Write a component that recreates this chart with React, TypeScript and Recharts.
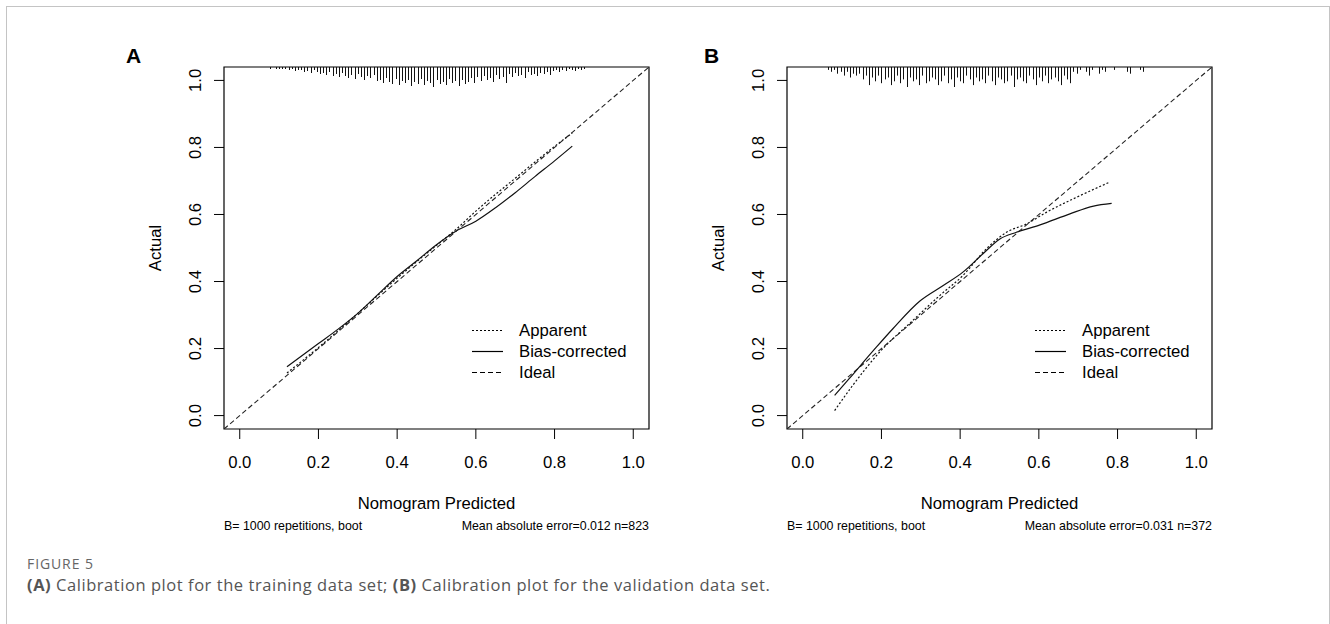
import React from 'react'
import { ComposedChart, Line, Scatter, XAxis, YAxis, Legend, ReferenceArea } from 'recharts'

// shared axis setup (R adds 4% on each side)
const axisTicks = [0, 0.2, 0.4, 0.6, 0.8, 1.0]
const axisDomain = [-0.04, 1.04]

// ideal line y = x, corner to corner
const idealX = [-0.04, 1.04]
const idealY = [-0.04, 1.04]

// panel A, training set
const apparentAX = [0.12, 0.2, 0.3, 0.4, 0.5, 0.55, 0.6, 0.7, 0.8, 0.845]
const apparentAY = [0.127, 0.203, 0.305, 0.41, 0.508, 0.556, 0.61, 0.708, 0.803, 0.843]
const correctedAX = [0.12, 0.2, 0.25, 0.3, 0.35, 0.4, 0.45, 0.5, 0.55, 0.6, 0.65, 0.7, 0.75, 0.8, 0.845]
const correctedAY = [0.146, 0.215, 0.258, 0.305, 0.36, 0.415, 0.462, 0.51, 0.551, 0.58, 0.62, 0.665, 0.713, 0.76, 0.804]

// panel A spike histogram of predictions (top rug)
const rugAX = [
  0.076, 0.084, 0.092, 0.1, 0.108, 0.116, 0.124, 0.132, 0.14, 0.148,
  0.156, 0.164, 0.172, 0.18, 0.188, 0.196, 0.204, 0.212, 0.22, 0.228,
  0.236, 0.244, 0.252, 0.26, 0.268, 0.276, 0.284, 0.292, 0.3, 0.308,
  0.316, 0.324, 0.332, 0.34, 0.348, 0.356, 0.364, 0.372, 0.38, 0.388,
  0.396, 0.404, 0.412, 0.42, 0.428, 0.436, 0.444, 0.452, 0.46, 0.468,
  0.476, 0.484, 0.492, 0.5, 0.508, 0.516, 0.524, 0.532, 0.54, 0.548,
  0.556, 0.564, 0.572, 0.58, 0.588, 0.596, 0.604, 0.612, 0.62, 0.628,
  0.636, 0.644, 0.652, 0.66, 0.668, 0.676, 0.684, 0.692, 0.7, 0.708,
  0.716, 0.724, 0.732, 0.74, 0.748, 0.756, 0.764, 0.772, 0.78, 0.788,
  0.796, 0.804, 0.812, 0.82, 0.828, 0.836, 0.844, 0.852, 0.86, 0.868,
  0.876,
]
const rugACount = [
  1, 0, 1, 1, 1, 1, 2, 1, 3, 2,
  2, 4, 3, 5, 2, 4, 6, 5, 7, 4,
  8, 6, 9, 5, 8, 10, 7, 11, 6, 9,
  12, 8, 10, 7, 13, 12, 15, 10, 14, 16,
  11, 17, 13, 15, 12, 18, 14, 16, 11, 17,
  13, 15, 19, 12, 16, 14, 17, 11, 15, 13,
  18, 12, 16, 14, 10, 15, 9, 13, 8, 12,
  10, 14, 7, 11, 9, 15, 6, 9, 5, 8,
  7, 10, 4, 7, 6, 8, 5, 6, 4, 7,
  3, 2, 4, 2, 3, 1, 2, 3, 1, 2,
  1,
]

// panel B, validation set
const apparentBX = [0.081, 0.127, 0.195, 0.28, 0.348, 0.407, 0.467, 0.518, 0.569, 0.62, 0.688, 0.781]
const apparentBY = [0.015, 0.09, 0.189, 0.284, 0.358, 0.418, 0.498, 0.547, 0.572, 0.607, 0.647, 0.697]
const correctedBX = [0.081, 0.118, 0.187, 0.229, 0.297, 0.357, 0.407, 0.458, 0.501, 0.543, 0.603, 0.679, 0.739, 0.785]
const correctedBY = [0.06, 0.11, 0.204, 0.259, 0.341, 0.388, 0.428, 0.483, 0.527, 0.547, 0.569, 0.602, 0.625, 0.633]

const rugBX = [
  0.064, 0.072, 0.08, 0.088, 0.096, 0.104, 0.112, 0.12, 0.128, 0.136,
  0.144, 0.152, 0.16, 0.168, 0.176, 0.184, 0.192, 0.2, 0.208, 0.216,
  0.224, 0.232, 0.24, 0.248, 0.256, 0.264, 0.272, 0.28, 0.288, 0.296,
  0.304, 0.312, 0.32, 0.328, 0.336, 0.344, 0.352, 0.36, 0.368, 0.376,
  0.384, 0.392, 0.4, 0.408, 0.416, 0.424, 0.432, 0.44, 0.448, 0.456,
  0.464, 0.472, 0.48, 0.488, 0.496, 0.504, 0.512, 0.52, 0.528, 0.536,
  0.544, 0.552, 0.56, 0.568, 0.576, 0.584, 0.592, 0.6, 0.608, 0.616,
  0.624, 0.632, 0.64, 0.648, 0.656, 0.664, 0.672, 0.68, 0.688, 0.696,
  0.704, 0.712, 0.72, 0.728, 0.736, 0.744, 0.752, 0.76, 0.768, 0.776,
  0.784, 0.792, 0.8, 0.808, 0.816, 0.824, 0.832, 0.84, 0.848, 0.856,
  0.864,
]
const rugBCount = [
  1, 2, 1, 3, 2, 4, 2, 5, 3, 4,
  3, 6, 4, 9, 5, 7, 4, 8, 6, 5,
  9, 7, 4, 8, 6, 10, 5, 7, 6, 9,
  4, 8, 7, 5, 6, 9, 7, 4, 8, 6,
  10, 5, 7, 8, 4, 6, 9, 5, 7, 6,
  8, 4, 7, 9, 5, 6, 8, 7, 4, 10,
  6, 5, 7, 8, 4, 6, 9, 5, 7, 4,
  8, 6, 5, 7, 9, 4, 6, 8, 2, 3,
  1, 0, 2, 4, 1, 0, 3, 1, 2, 0,
  0, 1, 0, 0, 0, 2, 3, 0, 0, 1,
  2,
]

const zip = (xs: number[], ys: number[]) => xs.map((x, i) => ({ x, y: ys[i] }))

const W = 560
const H = 520
const M = { top: 37, right: 11, left: 84, bottom: 81 }
const X_H = 40
const Y_W = 40
const PLOT_H = H - M.top - M.bottom - X_H
const RUG_PX = 19
const FONT = "'Liberation Sans', Arial, sans-serif"
const FS = 16.7

const RugTick = (props: any) => {
  const { cx, cy, payload } = props
  if (!payload || !payload.c) return null
  const px = Math.round(cx) + 0.5
  return <line x1={px} x2={px} y1={M.top} y2={cy + 1} stroke="#111" strokeWidth={1} />
}

const YTick = (props: any) => {
  const { x, y, payload } = props
  const tx = x - 18
  return (
    <text x={tx} y={y} transform={`rotate(-90, ${tx}, ${y})`} textAnchor="middle" dominantBaseline="central" fill="#000" fontSize={FS}>
      {Number(payload.value).toFixed(1)}
    </text>
  )
}

const legendOrder = ['Apparent', 'Bias-corrected', 'Ideal']

const CalLegend = (props: any) => {
  const items = (props.payload || [])
    .filter((e: any) => legendOrder.includes(e.value))
    .sort((a: any, b: any) => legendOrder.indexOf(a.value) - legendOrder.indexOf(b.value))
  return (
    <div style={{ fontSize: FS, color: '#000', fontFamily: FONT }}>
      {items.map((e: any) => (
        <div key={e.value} style={{ display: 'flex', alignItems: 'center', height: 21 }}>
          <svg width={31} height={21} style={{ marginRight: 16 }}>
            <line x1={0} x2={31} y1={10.5} y2={10.5} stroke="#000" strokeWidth={1.2} strokeDasharray={e.payload?.strokeDasharray} />
          </svg>
          <span>{e.value}</span>
        </div>
      ))}
    </div>
  )
}

type PanelProps = {
  apparent: { x: number; y: number }[]
  corrected: { x: number; y: number }[]
  rug: { x: number; c: number }[]
  noteLeft: string
  noteRight: string
}

function Panel({ apparent, corrected, rug, noteLeft, noteRight }: PanelProps) {
  const rugMax = Math.max(...rug.map((r) => r.c))
  const rugDomain = [0, (rugMax * PLOT_H) / RUG_PX]
  const xLabel = (p: any) => {
    const vb = p.viewBox
    return (
      <g fill="#000">
        <text x={vb.x + vb.width / 2} y={vb.y + 80} textAnchor="middle" fontSize={FS}>Nomogram Predicted</text>
        <text x={vb.x} y={vb.y + 101} textAnchor="start" fontSize={12.4}>{noteLeft}</text>
        <text x={vb.x + vb.width} y={vb.y + 101} textAnchor="end" fontSize={12.4}>{noteRight}</text>
      </g>
    )
  }
  const yLabel = (p: any) => {
    const vb = p.viewBox
    const lx = vb.x - 29
    const ly = vb.y + vb.height / 2
    return (
      <text x={lx} y={ly} transform={`rotate(-90, ${lx}, ${ly})`} textAnchor="middle" dominantBaseline="central" fill="#000" fontSize={FS}>
        Actual
      </text>
    )
  }
  return (
    <ComposedChart width={W} height={H} margin={M}>
      <XAxis
        type="number"
        dataKey="x"
        domain={axisDomain}
        ticks={axisTicks}
        allowDataOverflow
        axisLine={false}
        tickSize={10}
        tickMargin={17}
        height={X_H}
        tick={{ fill: '#000', fontSize: FS }}
        tickLine={{ stroke: '#000' }}
        tickFormatter={(v: number) => v.toFixed(1)}
        label={xLabel}
      />
      <YAxis
        yAxisId="main"
        type="number"
        dataKey="y"
        domain={axisDomain}
        ticks={axisTicks}
        allowDataOverflow
        axisLine={false}
        tickSize={10}
        tickMargin={0}
        width={Y_W}
        tick={<YTick />}
        tickLine={{ stroke: '#000' }}
        label={yLabel}
      />
      <YAxis yAxisId="rug" type="number" dataKey="c" hide reversed domain={rugDomain} allowDataOverflow />
      <ReferenceArea yAxisId="main" x1={-0.04} x2={1.04} y1={-0.04} y2={1.04} fill="none" fillOpacity={0} stroke="#000" strokeWidth={1.2} />
      <Scatter yAxisId="rug" data={rug} dataKey="c" shape={<RugTick />} legendType="none" isAnimationActive={false} />
      <Line yAxisId="main" name="Apparent" data={apparent} dataKey="y" type="monotone" stroke="#111" strokeWidth={1.2} strokeDasharray="2 2" dot={false} activeDot={false} isAnimationActive={false} />
      <Line yAxisId="main" name="Bias-corrected" data={corrected} dataKey="y" type="monotone" stroke="#111" strokeWidth={1.2} dot={false} activeDot={false} isAnimationActive={false} />
      <Line yAxisId="main" name="Ideal" data={zip(idealX, idealY)} dataKey="y" type="linear" stroke="#222" strokeWidth={1.1} strokeDasharray="5 3" dot={false} activeDot={false} isAnimationActive={false} />
      <Legend layout="vertical" align="center" verticalAlign="middle" content={<CalLegend />} wrapperStyle={{ left: 372, top: 290, width: 180 }} />
    </ComposedChart>
  )
}

export default function App() {
  const rugA = rugAX.map((x, i) => ({ x, c: rugACount[i] }))
  const rugB = rugBX.map((x, i) => ({ x, c: rugBCount[i] }))
  return (
    <div style={{ position: 'relative', width: 1330, height: 624, background: '#fff', overflow: 'hidden', fontFamily: FONT }}>
      <style>{'body{margin:0}'}</style>
      <div style={{ position: 'absolute', left: 6, top: 6, width: 1324, height: 700, border: '1px solid #c4c4c4', boxSizing: 'border-box' }} />
      <div style={{ position: 'absolute', left: 100, top: 30 }}>
        <Panel apparent={zip(apparentAX, apparentAY)} corrected={zip(correctedAX, correctedAY)} rug={rugA} noteLeft="B= 1000 repetitions, boot" noteRight="Mean absolute error=0.012 n=823" />
      </div>
      <div style={{ position: 'absolute', left: 663, top: 30 }}>
        <Panel apparent={zip(apparentBX, apparentBY)} corrected={zip(correctedBX, correctedBY)} rug={rugB} noteLeft="B= 1000 repetitions, boot" noteRight="Mean absolute error=0.031 n=372" />
      </div>
      <div style={{ position: 'absolute', left: 126, top: 44, fontSize: 21, fontWeight: 'bold' }}>A</div>
      <div style={{ position: 'absolute', left: 704, top: 44, fontSize: 21, fontWeight: 'bold' }}>B</div>
      <div style={{ position: 'absolute', left: 27, top: 554, fontFamily: "'Open Sans', sans-serif", fontSize: 14, color: '#666', letterSpacing: 0.9 }}>FIGURE 5</div>
      <div style={{ position: 'absolute', left: 27, top: 573, fontFamily: "'Open Sans', sans-serif", fontSize: 16.5, color: '#555', letterSpacing: 0.55 }}>
        <b>(A)</b> Calibration plot for the training data set; <b>(B)</b> Calibration plot for the validation data set.
      </div>
    </div>
  )
}
